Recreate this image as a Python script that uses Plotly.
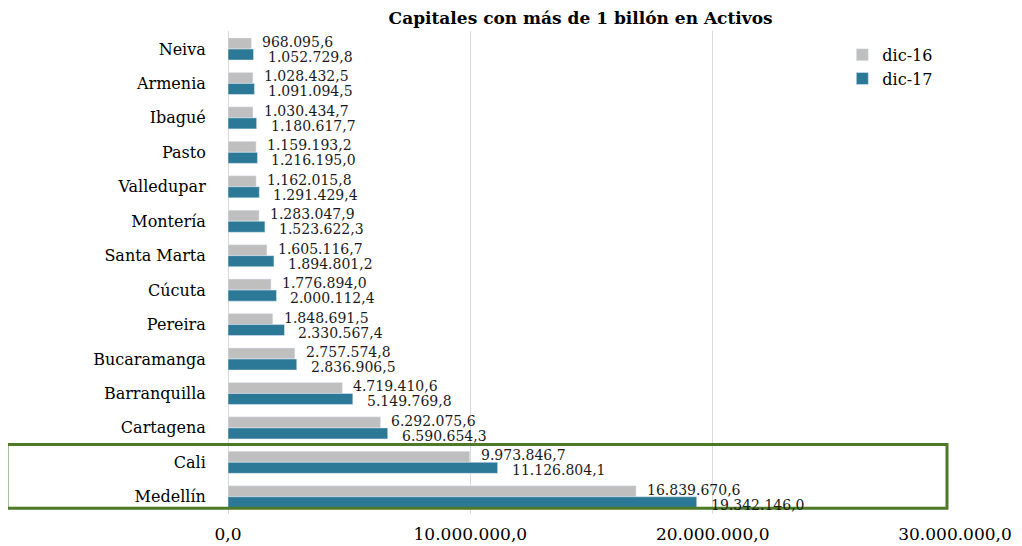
import plotly.graph_objects as go

categories = ["Neiva", "Armenia", "Ibagué", "Pasto", "Valledupar", "Montería", "Santa Marta",
              "Cúcuta", "Pereira", "Bucaramanga", "Barranquilla", "Cartagena", "Cali", "Medellín"]
dic16 = [968095.6, 1028432.5, 1030434.7, 1159193.2, 1162015.8, 1283047.9, 1605116.7,
         1776894.0, 1848691.5, 2757574.8, 4719410.6, 6292075.6, 9973846.7, 16839670.6]
dic17 = [1052729.8, 1091094.5, 1180617.7, 1216195.0, 1291429.4, 1523622.3, 1894801.2,
         2000112.4, 2330567.4, 2836906.5, 5149769.8, 6590654.3, 11126804.1, 19342146.0]
tick_vals = [0, 10000000, 20000000, 30000000]
tick_text = ["0,0", "10.000.000,0", "20.000.000,0", "30.000.000,0"]

GRAY = "#BFBFBF"
TEAL = "#2B7897"
FONT = "DejaVu Serif"


def fmt(v):
    s = f"{v:,.1f}"
    return s.replace(",", "X").replace(".", ",").replace("X", ".")


fig = go.Figure()
fig.add_trace(go.Bar(y=categories, x=dic16, orientation="h", name="dic-16",
                     marker=dict(color=GRAY), hoverinfo="x+y"))
fig.add_trace(go.Bar(y=categories, x=dic17, orientation="h", name="dic-17",
                     marker=dict(color=TEAL), hoverinfo="x+y"))

annotations = []
for c, a, b in zip(categories, dic16, dic17):
    annotations.append(dict(x=a, y=c, xref="x", yref="y", text=fmt(a), showarrow=False,
                            xanchor="left", yanchor="middle", xshift=9, yshift=7,
                            font=dict(family=FONT, size=14, color="#1a1a1a")))
    annotations.append(dict(x=b, y=c, xref="x", yref="y", text=fmt(b), showarrow=False,
                            xanchor="left", yanchor="middle", xshift=12, yshift=-8,
                            font=dict(family=FONT, size=14, color="#1a1a1a")))

fig.update_layout(
    width=1014, height=538,
    paper_bgcolor="white", plot_bgcolor="white",
    margin=dict(l=220, r=67, t=23, b=32, autoexpand=False),
    barmode="group", bargap=0.36, bargroupgap=0,
    title=dict(text="<b>Capitales con más de 1 billón en Activos</b>",
               x=0.485, xref="paper", xanchor="center", y=0.993, yanchor="top",
               pad=dict(t=0, b=0),
               font=dict(family=FONT, size=17, color="black")),
    legend=dict(x=0.845, y=0.986, xanchor="left", yanchor="top",
                font=dict(family=FONT, size=16, color="black"),
                bgcolor="rgba(0,0,0,0)", itemwidth=30, tracegroupgap=0),
    font=dict(family=FONT, color="black"),
    annotations=annotations,
    shapes=[dict(type="rect", xref="paper", yref="y", x0=-0.304, x1=0.989, y0=11.48, y1=13.33,
                 line=dict(color="#4E7A27", width=3), fillcolor="rgba(0,0,0,0)", layer="above")],
)
fig.update_xaxes(range=[0, 30000000], tickvals=tick_vals, ticktext=tick_text,
                 showgrid=True, gridcolor="#D9D9D9", gridwidth=1, zeroline=True,
                 zerolinecolor="#D9D9D9", zerolinewidth=1, showline=False, automargin=False,
                 ticks="outside", ticklen=5, tickcolor="rgba(0,0,0,0)",
                 tickfont=dict(family=FONT, size=17, color="black"))
fig.update_yaxes(autorange="reversed", showgrid=False, showline=False, automargin=False,
                 ticks="outside", ticklen=18, tickcolor="rgba(0,0,0,0)",
                 tickfont=dict(family=FONT, size=16, color="black"))

fig.write_html("out.html")
